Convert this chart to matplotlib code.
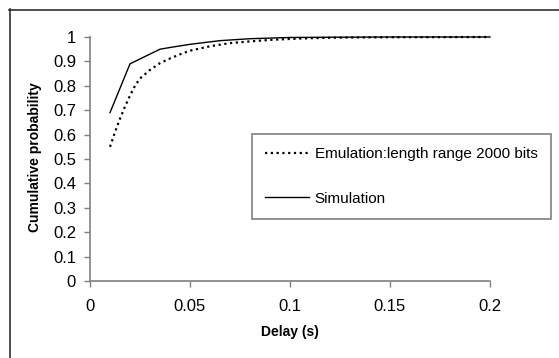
import matplotlib
matplotlib.use("Agg")
import matplotlib.pyplot as plt
from matplotlib.lines import Line2D

plt.rcParams['font.family'] = ['Liberation Sans', 'DejaVu Sans']

# Data
emu_x = [0.01, 0.0125, 0.015, 0.0175, 0.02, 0.0225, 0.025, 0.03, 0.035, 0.04, 0.045,
         0.05, 0.06, 0.07, 0.08, 0.09, 0.1, 0.11, 0.12, 0.13, 0.15, 0.2]
emu_y = [0.55, 0.61, 0.665, 0.715, 0.76, 0.80, 0.83, 0.865, 0.893, 0.912, 0.929,
         0.944, 0.962, 0.975, 0.982, 0.988, 0.992, 0.995, 0.997, 0.998, 0.999, 1.0]
sim_x = [0.01, 0.02, 0.035, 0.04, 0.05, 0.065, 0.08, 0.1, 0.12, 0.15, 0.2]
sim_y = [0.69, 0.89, 0.95, 0.957, 0.97, 0.985, 0.993, 0.998, 0.999, 1.0, 1.0]

x_ticks = [0, 0.05, 0.1, 0.15, 0.2]
x_labels = ['0', '0.05', '0.1', '0.15', '0.2']
y_ticks = [0, 0.1, 0.2, 0.3, 0.4, 0.5, 0.6, 0.7, 0.8, 0.9, 1.0]
y_labels = ['0', '0.1', '0.2', '0.3', '0.4', '0.5', '0.6', '0.7', '0.8', '0.9', '1']

W, H = 559, 358
fig = plt.figure(figsize=(W / 100, H / 100), dpi=100)
fig.patch.set_facecolor('white')

# outer frame (left and top visible)
fig.add_artist(Line2D([9.5 / W, 9.5 / W], [0, 1 - 9 / H], transform=fig.transFigure,
                      color='#303030', lw=1.2))
fig.add_artist(Line2D([9 / W, 1], [1 - 9.5 / H, 1 - 9.5 / H], transform=fig.transFigure,
                      color='#303030', lw=1.2))

ax = fig.add_axes([90 / W, 1 - 281 / H, 400 / W, 244 / H])
ax.plot(emu_x, emu_y, color='black', lw=1.6, linestyle=(0, (1, 1.6)), clip_on=False,
        label='Emulation:length range 2000 bits')
ax.plot(sim_x, sim_y, color='black', lw=1.0, clip_on=False, label='Simulation')

ax.set_xlim(0, 0.2)
ax.set_ylim(0, 1)
ax.set_xticks(x_ticks)
ax.set_xticklabels(x_labels)
ax.set_yticks(y_ticks)
ax.set_yticklabels(y_labels)
for s in ['top', 'right']:
    ax.spines[s].set_visible(False)
for s in ['left', 'bottom']:
    ax.spines[s].set_color('#808080')
    ax.spines[s].set_linewidth(1.2)
ax.tick_params(axis='both', direction='out', length=4, color='#808080', width=1,
               labelsize=12, colors='black')
ax.tick_params(axis='x', pad=9)
ax.tick_params(axis='y', pad=6)
for t in ax.get_xticklabels() + ax.get_yticklabels():
    t.set_color('black')

fig.text(290 / W, 1 - 332 / H, 'Delay (s)', fontsize=10, fontweight='bold',
         ha='center', va='center')
fig.text(35 / W, 1 - 157 / H, 'Cumulative probability', fontsize=10, fontweight='bold',
         ha='center', va='center', rotation=90)

leg = ax.legend(loc='upper left', bbox_to_anchor=(252 / W, 1 - 134 / H),
                bbox_transform=fig.transFigure, fontsize=11, frameon=True,
                fancybox=False, edgecolor='#606060', handlelength=2.9,
                handletextpad=0.35, labelspacing=2.0, borderpad=0.85,
                borderaxespad=0)
leg.get_frame().set_linewidth(1.2)

fig.savefig('out.png', dpi=100)
